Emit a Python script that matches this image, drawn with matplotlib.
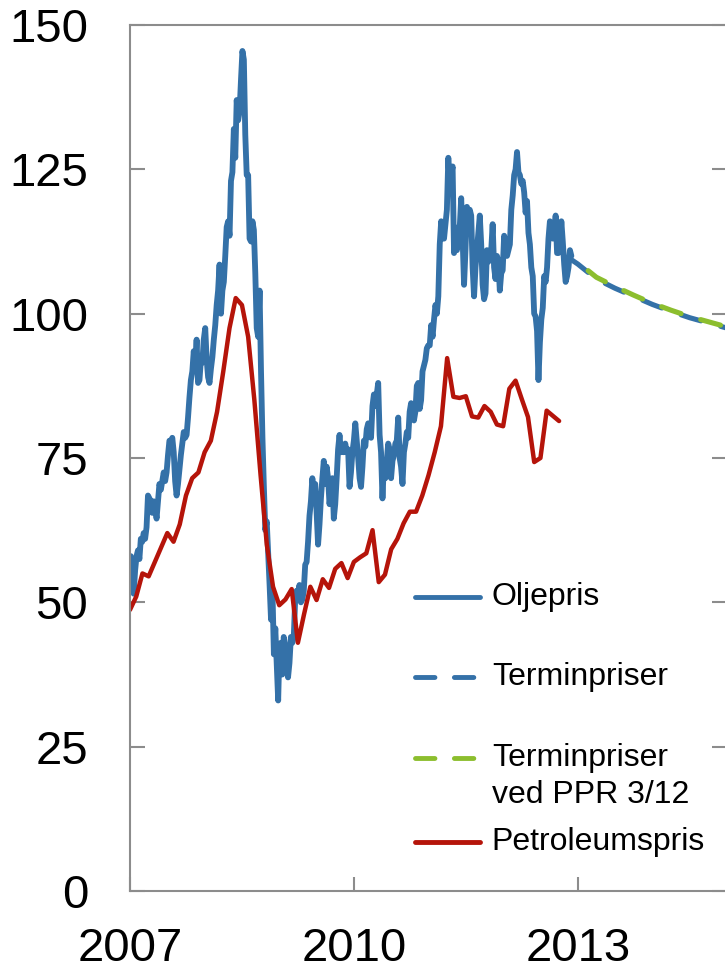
import numpy as np
import pandas as pd
import matplotlib
matplotlib.use("Agg")
import matplotlib.pyplot as plt

plt.rcParams['font.family'] = ['Liberation Sans', 'DejaVu Sans']

# weekly oil price (USD per barrel), Fridays from 5 Jan 2007
oil_2007 = [58, 53, 51.5, 55.5, 58, 59, 57.5, 61, 60.5, 62, 61, 63, 68.5,
            68, 67.5, 65.5, 67.5, 66.5, 64.5, 67.5, 70.5, 69.5, 71, 72.5, 71, 72.5,
            75.5, 78, 77.5, 78.5, 76, 71, 68.5, 70.5, 73, 75.5, 77.5, 79.5, 78.5,
            79, 82, 85.5, 88.5, 90, 93.5, 91, 95.5, 88, 88.5, 92, 91.5, 95.5]
oil_2008 = [97.5, 92, 89, 88, 90.5, 92.5, 95.5, 98, 101.5, 104, 108.5, 100, 104,
            105.5, 110, 115, 116, 113.5, 123, 124.5, 132, 127, 137, 133.5, 135, 140.5,
            145.5, 144, 131, 124, 124, 113, 112.5, 116, 114.5, 107, 97.5, 96, 104,
            90, 78.5, 70, 62.5, 64, 58.5, 53, 47, 52, 41, 45.5, 39, 33]
oil_2009 = [42, 43, 37.5, 44, 42.5, 41, 37, 39.5, 44, 43, 44, 50.5, 52,
            51.5, 53, 50, 50.5, 52, 56.5, 57, 60.5, 65, 67.5, 71.5, 69, 70.5,
            65.5, 60, 63.5, 68, 71.5, 74.5, 70.5, 73.5, 71.5, 67, 69, 71.5, 64.5,
            67, 71.5, 76.5, 79, 76, 76.5, 76, 77.5, 76, 76.5, 70, 72.5, 76]
oil_2010 = [78, 81, 78, 75, 71.5, 70, 73.5, 78, 77, 80, 81, 80, 78.5,
            84, 86, 84, 86, 88, 79, 76, 68, 74, 71.5, 74.5, 77.5, 76.5,
            71.5, 74.5, 75.5, 77.5, 78, 82, 75, 73.5, 70.5, 76, 77.5, 79.5, 78.5,
            83, 84.5, 83.5, 81.5, 83, 87.5, 88, 83.5, 85, 90, 91, 92, 94, 94.5]
oil_2011 = [94.5, 98, 96, 99, 101.5, 100, 103, 112, 116, 113, 113, 115.5,
            118, 127, 122, 124, 125.5, 110.5, 113, 111, 115, 115, 120, 113, 105,
            111, 118.5, 117, 118, 117, 108, 103, 108, 111, 114, 117, 112, 105, 102.5,
            103.5, 111, 109, 110, 111, 115.5, 108, 106, 110, 109, 104, 107, 107.5]
oil_2012 = [113.5, 112, 110, 111, 112, 118, 120.5, 124, 125, 128, 124.5, 124, 122.5,
            123, 121, 117.5, 119.5, 114, 112, 108, 106.5, 100, 99.5, 97, 88.5, 95,
            99, 101, 106.5, 105.5, 108, 113, 116, 115.5, 113, 113.5, 117, 110.5, 110.5,
            111.5, 116, 112.5, 108.5, 105.5, 106.5, 108, 111, 110]

# monthly petroleum price, from Jan 2007
petro = [48.7, 51, 55, 54.5, 57, 59.5, 62, 60.5, 63.5, 68.5, 71.5, 72.5,
         76, 78, 83, 90, 97.5, 102.7, 101.5, 96, 85, 72, 60, 52.7,
         49.5, 50.5, 52.3, 43, 48, 52.7, 50.4, 54, 52.5, 55.8, 56.8, 54.2,
         57, 57.8, 58.5, 62.5, 53.5, 54.8, 59.2, 61, 63.7, 65.7, 65.7, 68.5,
         72, 76, 80.5, 92.3, 85.6, 85.4, 85.7, 82.2, 82, 84, 83, 80.8,
         80.5, 87, 88.4, 85.2, 82.1, 74.3, 75, 83.2, 82.3, 81.4]

# forward curves (time in years)
fwd_t = [2012.92, 2013.0, 2013.25, 2013.5, 2013.75, 2014.0, 2014.25, 2014.5, 2014.75, 2015.0, 2015.25]
fwd_now = [109.3, 108.6, 106.0, 104.4, 103.0, 101.6, 100.4, 99.3, 98.4, 97.5, 96.6]
fwd_ppr = [109.6, 108.9, 106.3, 104.7, 103.2, 101.8, 100.6, 99.5, 98.6, 97.7, 96.8]

labels = ['Oljepris', 'Terminpriser', 'Terminpriser', 'Petroleumspris']

c_blue = '#3471A8'
c_red = '#B5140A'
c_green = '#8CBE2E'
c_axis = '#8C8C8C'

oil = oil_2007 + oil_2008 + oil_2009 + oil_2010 + oil_2011 + oil_2012
dates = pd.date_range('2007-01-05', periods=len(oil), freq='W-FRI')
t_oil = dates.year + (dates.dayofyear - 1) / 365.25
t_petro = 2007 + np.arange(len(petro)) / 12

fig = plt.figure(figsize=(7.25, 9.71), dpi=100)
ax = fig.add_axes([130 / 725, 80 / 971, 597 / 725, 866 / 971])

ax.plot(t_oil, oil, color=c_blue, lw=4.2, solid_joinstyle='round', solid_capstyle='round')
ax.plot(t_petro, petro, color=c_red, lw=3.2, solid_joinstyle='round', solid_capstyle='round')
ax.plot(fwd_t, fwd_now, color=c_blue, lw=3.7, linestyle=(0, (4, 4)), dash_capstyle='round')
ax.plot(fwd_t, fwd_ppr, color=c_green, lw=3.7, linestyle=(4, (4, 4)), dash_capstyle='round')

ax.set_xlim(2007, 2015)
ax.set_ylim(0, 150)
ax.set_yticks(np.arange(0, 151, 25))
ax.set_xticks([2007, 2010, 2013])
ax.set_xticklabels(['2007', '2010', '2013'])

for s in ['left', 'top', 'bottom']:
    ax.spines[s].set_color(c_axis)
    ax.spines[s].set_linewidth(1.5)
ax.spines['right'].set_visible(False)
ax.tick_params(axis='y', which='both', direction='in', length=11, width=1.5, color=c_axis,
               right=True, labelsize=34, pad=30)
ax.tick_params(axis='x', direction='in', length=10, width=1.5, color=c_axis,
               labelsize=34, pad=26)

# legend drawn by hand (handle aligned with first text line)
lx0, lx1, tx = 0.477, 0.586, 0.606
rows = [0.3395, 0.247, 0.1536, 0.0566]
styles = [dict(color=c_blue), dict(color=c_blue, linestyle=(0, (4, 4))),
          dict(color=c_green, linestyle=(0, (4, 4))), dict(color=c_red)]
for y, lab, st in zip(rows, labels, styles):
    ax.plot([lx0, lx1], [y, y], transform=ax.transAxes, lw=3.5, solid_capstyle='round',
            dash_capstyle='round', **st)
    ax.text(tx, y, lab, transform=ax.transAxes, fontsize=23, va='center', ha='left')
ax.text(tx, 0.111, 'ved PPR 3/12', transform=ax.transAxes, fontsize=23, va='center', ha='left')

fig.savefig('out.png', dpi=100)
